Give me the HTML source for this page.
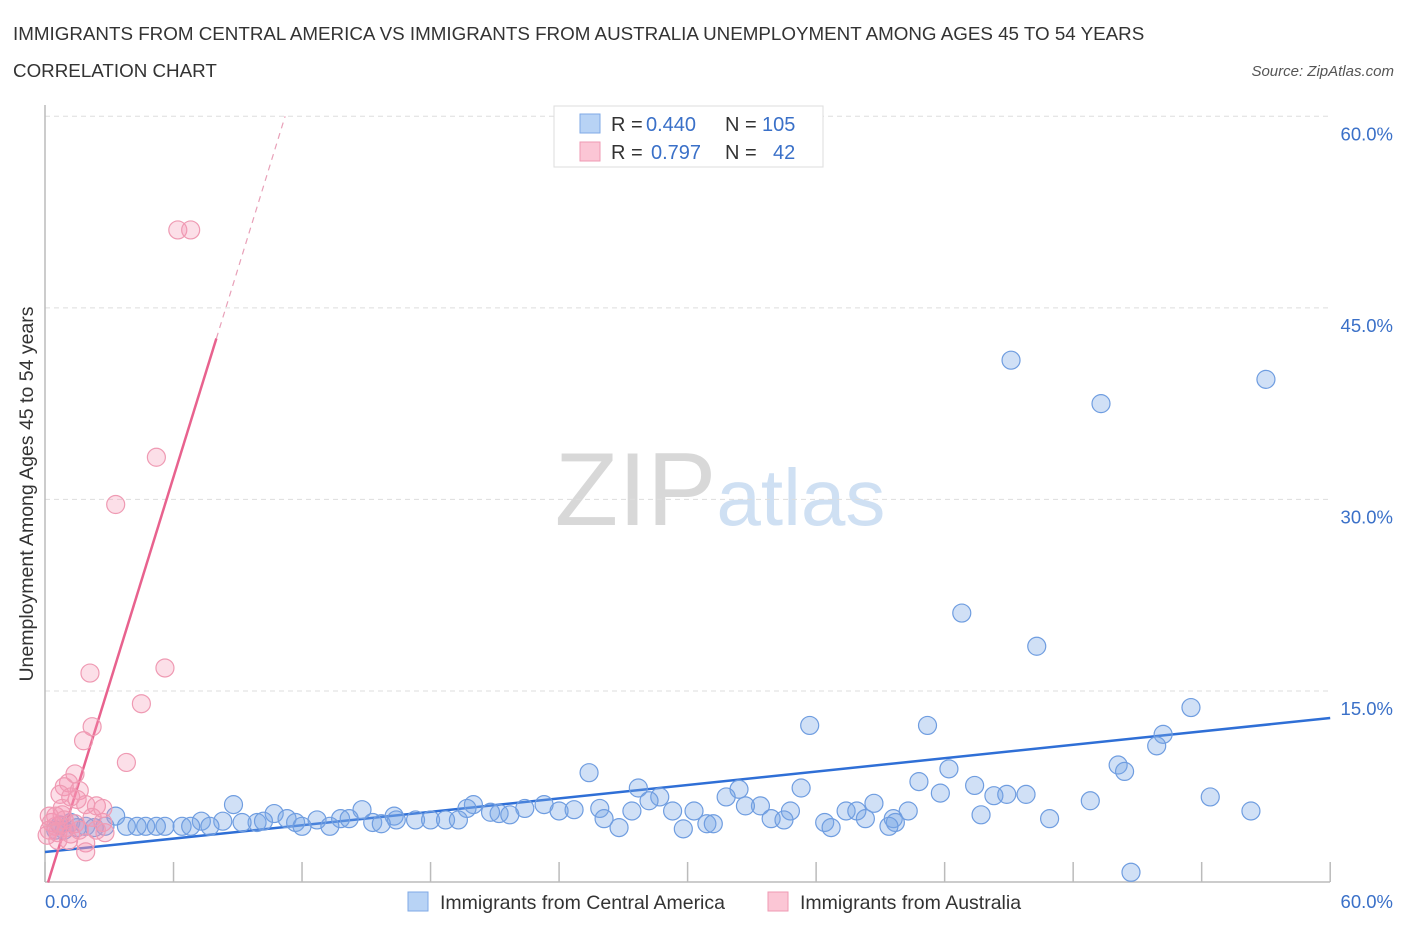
<!DOCTYPE html>
<html><head><meta charset="utf-8"><style>
body{margin:0;background:#fff;font-family:"Liberation Sans",sans-serif}
svg text{font-family:"Liberation Sans",sans-serif}
</style></head><body>
<svg id="chart" width="1406" height="930" xmlns="http://www.w3.org/2000/svg">
<text x="13" y="40" font-size="18.8" fill="#333">IMMIGRANTS FROM CENTRAL AMERICA VS IMMIGRANTS FROM AUSTRALIA UNEMPLOYMENT AMONG AGES 45 TO 54 YEARS</text>
<text x="13" y="77" font-size="18.8" fill="#333">CORRELATION CHART</text>
<text x="1394" y="76" font-size="15" fill="#555" text-anchor="end" font-style="italic">Source: ZipAtlas.com</text>
<text x="720" y="525" font-size="104" text-anchor="middle" fill="#ddd" font-family="Liberation Serif"><tspan fill="#d8d8d8">ZIP</tspan><tspan fill="#cfe0f3" font-family="Liberation Sans" font-size="80">atlas</tspan></text>
<g id="grid"></g>
<g id="axes"></g>
<g id="trend"></g>
<g id="pts"></g>
<text transform="translate(33,494) rotate(-90)" font-size="19.5" fill="#333" text-anchor="middle">Unemployment Among Ages 45 to 54 years</text>
<g>
<rect x="554" y="106" width="269" height="61" fill="#fff" stroke="#ddd"/>
<rect x="580" y="114" width="20" height="19" fill="#b8d3f5" stroke="#7fa9e6"/>
<rect x="580" y="142" width="20" height="19" fill="#fbc6d5" stroke="#ef9ab3"/>
<text x="611" y="131" font-size="20" fill="#333">R =</text>
<text x="646" y="131" font-size="20" fill="#3a70c8">0.440</text>
<text x="725" y="131" font-size="20" fill="#333">N =</text>
<text x="762" y="131" font-size="20" fill="#3a70c8">105</text>
<text x="611" y="159" font-size="20" fill="#333">R =</text>
<text x="651" y="159" font-size="20" fill="#3a70c8">0.797</text>
<text x="725" y="159" font-size="20" fill="#333">N =</text>
<text x="773" y="159" font-size="20" fill="#3a70c8">42</text>
</g>
<g>
<rect x="408" y="892" width="20" height="19" fill="#b8d3f5" stroke="#7fa9e6"/>
<text x="440" y="909" font-size="19.5" fill="#333">Immigrants from Central America</text>
<rect x="768" y="892" width="20" height="19" fill="#fbc6d5" stroke="#ef9ab3"/>
<text x="800" y="909" font-size="19.5" fill="#333">Immigrants from Australia</text>
</g>
</svg>
<script>
const yTicks=[15,30,45,60];
const yTickLabels=["15.0%","30.0%","45.0%","60.0%"];
const xTicks=[0,6,12,18,24,30,36,42,48,54,60];
const blueX=[45.1,49.3,57.0,42.8,46.3,35.7,41.2,53.5,52.2,51.9,50.1,50.4,25.4,42.2,40.8,43.4,27.7,35.3,32.4,41.8,44.3,44.9,45.8,54.4,48.8,31.8,28.7,28.2,38.7,8.8,20.0,23.3,33.4,56.3,25.9,32.7,27.4,40.3,37.4,37.9,34.8,30.3,29.3,24.0,24.7,22.4,19.7,14.8,10.7,3.3,43.7,33.9,34.5,38.3,39.6,26.1,46.9,36.4,39.7,21.2,21.7,20.8,16.3,13.8,14.2,16.4,17.3,18.0,18.7,19.3,15.3,15.7,12.7,11.3,11.7,9.9,10.2,9.2,8.3,7.3,6.4,5.6,4.7,3.8,2.8,26.8,30.9,31.2,36.7,39.4,29.8,12.0,13.3,7.7,6.8,5.2,4.3,1.9,1.2,2.3,0.9,50.7,0.7,1.5,0.5];
const blueY=[40.9,37.5,39.4,21.1,18.5,12.3,12.3,13.7,11.6,10.7,9.2,8.7,8.6,8.9,7.9,7.6,7.4,7.4,7.3,7.0,6.8,6.9,6.9,6.7,6.4,6.7,6.7,6.4,6.2,6.1,6.1,6.1,6.0,5.6,5.8,6.0,5.6,5.6,5.6,5.6,5.6,5.6,5.6,5.6,5.7,5.8,5.8,5.7,5.4,5.2,5.3,5.0,4.9,5.0,5.0,5.0,5.0,4.7,4.7,5.4,5.3,5.5,5.2,5.0,5.0,4.9,4.9,4.9,4.9,4.9,4.7,4.6,4.9,5.0,4.7,4.7,4.8,4.7,4.8,4.8,4.4,4.4,4.4,4.4,4.4,4.3,4.6,4.6,4.3,4.4,4.2,4.4,4.4,4.4,4.4,4.4,4.4,4.4,4.7,4.3,4.1,0.8,4.5,4.3,4.1];
const pinkX=[6.2,6.8,5.2,3.3,2.1,5.6,4.5,2.2,1.8,3.8,1.4,1.1,1.6,0.9,0.7,1.5,1.2,2.4,1.9,0.8,2.2,2.7,2.8,1.9,1.9,1.1,0.3,0.2,0.5,0.6,0.1,0.9,0.8,1.4,1.2,0.5,0.2,1.6,1.0,2.4,0.6,2.7];
const pinkY=[51.1,51.1,33.3,29.6,16.4,16.8,14.0,12.2,11.1,9.4,8.5,7.8,7.2,7.5,6.9,6.5,6.7,6.0,6.1,5.8,5.1,4.7,3.9,3.1,2.4,3.3,4.7,4.1,4.4,3.9,3.7,4.9,5.3,4.6,3.8,5.2,5.2,4.1,4.3,4.1,3.3,5.8];
const blueTrend=[2.39,12.88];
const pinkTrend=[-0.76,5.42];
const X=v=>45+v*21.42, Y=v=>882.5-v*12.77;
const NS="http://www.w3.org/2000/svg";
function mk(p,t,a){const e=document.createElementNS(NS,t);for(const k in a)e.setAttribute(k,a[k]);p.appendChild(e);return e;}
const grid=document.getElementById('grid'),axes=document.getElementById('axes'),trend=document.getElementById('trend'),pts=document.getElementById('pts');
yTicks.forEach((t,i)=>{
 const l=mk(grid,'line',{x1:45,x2:1330,y1:Y(t),y2:Y(t),stroke:'#ddd','stroke-dasharray':'5,4'});
 
 
 const tx=mk(axes,'text',{x:1393,y:Y(t)+24,'font-size':18.5,fill:'#3a70c8','text-anchor':'end'});
 tx.textContent=yTickLabels[i];
 
 
});
mk(axes,'line',{x1:45,x2:45,y1:105,y2:882,stroke:'#bbb','stroke-width':1.5});
mk(axes,'line',{x1:45,x2:1330,y1:882,y2:882,stroke:'#bbb','stroke-width':1.5});
xTicks.forEach(t=>{
 const l=mk(axes,'line',{x1:X(t),x2:X(t),y1:862,y2:882,stroke:'#bbb','stroke-width':1.5});
 
 
});
const xl0=mk(axes,'text',{x:45,y:908,'font-size':18.5,fill:'#3a70c8'});xl0.textContent='0.0%';


const xl1=mk(axes,'text',{x:1393,y:908,'font-size':18.5,fill:'#3a70c8','text-anchor':'end'});xl1.textContent='60.0%';


blueX.forEach((v,i)=>{
 const c=mk(pts,'circle',{cx:X(v),cy:Y(blueY[i]),r:9,fill:'rgba(120,165,230,0.35)',stroke:'#6f9de0','stroke-width':1.2});
 
 
});
pinkX.forEach((v,i)=>{
 const c=mk(pts,'circle',{cx:X(v),cy:Y(pinkY[i]),r:9,fill:'rgba(245,150,180,0.3)',stroke:'#ef9ab3','stroke-width':1.2});
 
 
});
const bt=mk(trend,'line',{x1:X(0),y1:Y(blueTrend[0]),x2:X(60),y2:Y(blueTrend[1]),stroke:'#2f6fd6','stroke-width':2.5});


const px0=-pinkTrend[0]/pinkTrend[1];
const pt=mk(trend,'line',{x1:X(px0),y1:Y(0),x2:X(8),y2:Y(pinkTrend[0]+pinkTrend[1]*8),stroke:'#e8628e','stroke-width':2.5});


const xe=(60-pinkTrend[0])/pinkTrend[1];
const pd=mk(trend,'line',{x1:X(8),y1:Y(pinkTrend[0]+pinkTrend[1]*8),x2:X(xe),y2:Y(60),stroke:'#e8a0b8','stroke-width':1.2,'stroke-dasharray':'6,5'});


</script>
</body></html>
